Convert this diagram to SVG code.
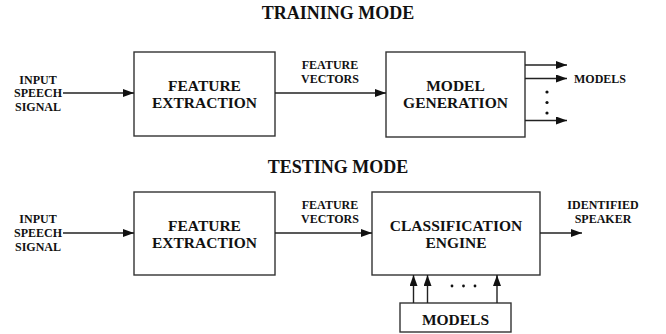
<svg xmlns="http://www.w3.org/2000/svg" width="666" height="334" viewBox="0 0 666 334">
<defs>
<marker id="ah" markerUnits="userSpaceOnUse" markerWidth="11" markerHeight="8" refX="11" refY="4" orient="auto">
<path d="M0,0 L11,4 L0,8 z" fill="#111"/>
</marker>
<style>
text{font-family:'Liberation Serif',serif;font-weight:bold;fill:#111;text-anchor:middle}
.t{font-size:18px}
.b{font-size:15.5px}
.s{font-size:12px}
.box{fill:#fff;stroke:#333;stroke-width:1.4}
.ar{stroke:#222;stroke-width:1.4;fill:none;marker-end:url(#ah)}
.dot{fill:#111}
</style>
</defs>
<rect width="666" height="334" fill="#fff"/>

<g font-family="Liberation Serif, serif">
<text class="t" x="338" y="19">TRAINING MODE</text>
<text class="t" x="338" y="173">TESTING MODE</text>

<g id="input1">
<text class="s" x="38" y="83.5">INPUT</text>
<text class="s" x="38" y="97">SPEECH</text>
<text class="s" x="38" y="111">SIGNAL</text>
</g>
<g id="fe1">
<rect class="box" x="134" y="52" width="141" height="84"/>
<text class="b" x="204.5" y="91">FEATURE</text>
<text class="b" x="204.5" y="108">EXTRACTION</text>
</g>
<g id="fv1">
<text class="s" x="330" y="69">FEATURE</text>
<text class="s" x="330" y="82.5">VECTORS</text>
</g>
<g id="mg">
<rect class="box" x="386" y="52" width="139" height="85"/>
<text class="b" x="455.5" y="91">MODEL</text>
<text class="b" x="455.5" y="108">GENERATION</text>
</g>
<g id="models-out">
<text class="s" x="600" y="82.5">MODELS</text>
<circle class="dot" cx="547" cy="92" r="1.6"/>
<circle class="dot" cx="547" cy="102.5" r="1.6"/>
<circle class="dot" cx="547" cy="113" r="1.6"/>
</g>

<g id="input2">
<text class="s" x="38" y="223">INPUT</text>
<text class="s" x="38" y="237">SPEECH</text>
<text class="s" x="38" y="251">SIGNAL</text>
</g>
<g id="fe2">
<rect class="box" x="134" y="192" width="141" height="83"/>
<text class="b" x="204.5" y="231">FEATURE</text>
<text class="b" x="204.5" y="248">EXTRACTION</text>
</g>
<g id="fv2">
<text class="s" x="330" y="209">FEATURE</text>
<text class="s" x="330" y="222.5">VECTORS</text>
</g>
<g id="ce">
<rect class="box" x="372" y="192" width="168" height="83"/>
<text class="b" x="456" y="231">CLASSIFICATION</text>
<text class="b" x="456" y="248">ENGINE</text>
</g>
<g id="speaker">
<text class="s" x="603" y="209">IDENTIFIED</text>
<text class="s" x="603" y="223">SPEAKER</text>
</g>
<g id="models-in">
<rect class="box" x="400" y="303" width="111" height="29"/>
<text class="b" x="455.5" y="325">MODELS</text>
<circle class="dot" cx="452" cy="286" r="1.4"/>
<circle class="dot" cx="463.5" cy="286" r="1.4"/>
<circle class="dot" cx="475" cy="286" r="1.4"/>
</g>
</g>

<g id="connectors">
<line class="ar" x1="63" y1="93" x2="134" y2="93"/>
<line class="ar" x1="275" y1="93" x2="386" y2="93"/>
<line class="ar" x1="525" y1="65" x2="567" y2="65"/>
<line class="ar" x1="525" y1="78.5" x2="567" y2="78.5"/>
<line class="ar" x1="525" y1="120.5" x2="567" y2="120.5"/>
<line class="ar" x1="63" y1="233" x2="134" y2="233"/>
<line class="ar" x1="275" y1="233" x2="372" y2="233"/>
<line class="ar" x1="540" y1="233" x2="582" y2="233"/>
<line class="ar" x1="413.5" y1="303" x2="413.5" y2="275"/>
<line class="ar" x1="427.5" y1="303" x2="427.5" y2="275"/>
<line class="ar" x1="497" y1="303" x2="497" y2="275"/>
</g>
</svg>
